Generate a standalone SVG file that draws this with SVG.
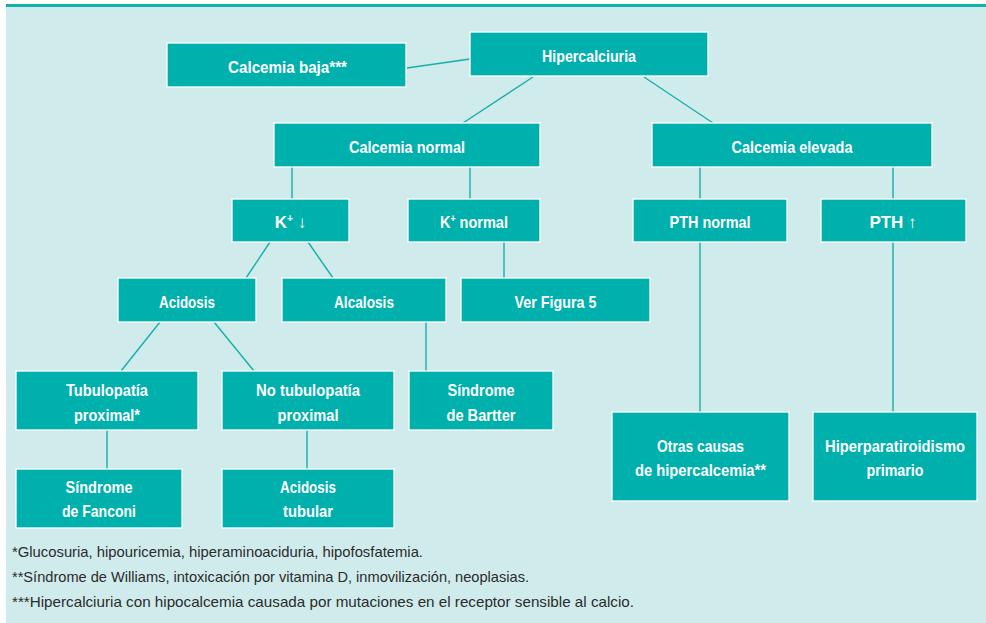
<svg xmlns="http://www.w3.org/2000/svg" width="986" height="623" viewBox="0 0 986 623">
  <style>
    .box { fill: #00b0ad; stroke: #ffffff; stroke-width: 1.3; }
    .lbl { font-family: "Liberation Sans", "Arial", sans-serif; font-weight: bold; font-size: 17px; fill: #ffffff; text-anchor: middle; }
    .sup { font-size: 10px; }
    .link { stroke: #17aeab; stroke-width: 1.4; fill: none; }
    .note { font-family: "Liberation Sans", "Arial", sans-serif; font-size: 14.5px; fill: #2b2b2b; }
  </style>

  <!-- frame -->
  <rect x="6" y="6" width="980" height="617" fill="#d0ebeb"/>
  <rect x="6" y="4" width="980" height="3" fill="#14b0aa"/>

  <!-- connectors -->
  <g id="connectors">
    <line class="link" x1="407" y1="68" x2="470" y2="59"/>
    <line class="link" x1="533" y1="77" x2="463" y2="123"/>
    <line class="link" x1="644" y1="77" x2="713" y2="123"/>
    <line class="link" x1="292" y1="167" x2="292" y2="199"/>
    <line class="link" x1="470" y1="167" x2="470" y2="199"/>
    <line class="link" x1="700" y1="167" x2="700" y2="199"/>
    <line class="link" x1="893" y1="167" x2="893" y2="199"/>
    <line class="link" x1="270" y1="242" x2="246" y2="278"/>
    <line class="link" x1="308" y1="242" x2="333" y2="278"/>
    <line class="link" x1="504" y1="242" x2="504" y2="278"/>
    <line class="link" x1="160" y1="322" x2="121" y2="371"/>
    <line class="link" x1="214" y1="322" x2="254" y2="371"/>
    <line class="link" x1="426" y1="322" x2="426" y2="371"/>
    <line class="link" x1="107" y1="430" x2="107" y2="469"/>
    <line class="link" x1="307" y1="430" x2="307" y2="469"/>
    <line class="link" x1="700" y1="242" x2="700" y2="412"/>
    <line class="link" x1="893" y1="242" x2="893" y2="412"/>
  </g>

  <!-- nodes -->
  <g id="calcemia-baja">
    <rect class="box" x="167" y="43" width="239" height="44"/>
    <text class="lbl" x="287.5" y="73" textLength="119" lengthAdjust="spacingAndGlyphs">Calcemia baja***</text>
  </g>
  <g id="hipercalciuria">
    <rect class="box" x="470" y="32" width="238" height="44"/>
    <text class="lbl" x="589" y="62" textLength="94" lengthAdjust="spacingAndGlyphs">Hipercalciuria</text>
  </g>
  <g id="calcemia-normal">
    <rect class="box" x="274" y="123" width="266" height="44"/>
    <text class="lbl" x="407" y="153" textLength="116" lengthAdjust="spacingAndGlyphs">Calcemia normal</text>
  </g>
  <g id="calcemia-elevada">
    <rect class="box" x="652" y="123" width="280" height="44"/>
    <text class="lbl" x="792" y="153" textLength="121" lengthAdjust="spacingAndGlyphs">Calcemia elevada</text>
  </g>
  <g id="k-bajo">
    <rect class="box" x="232" y="199" width="117" height="43"/>
    <text class="lbl" x="290.5" y="228">K<tspan class="sup" dy="-6">+</tspan><tspan dy="6"> ↓</tspan></text>
  </g>
  <g id="k-normal">
    <rect class="box" x="408" y="199" width="132" height="43"/>
    <text class="lbl" x="474" y="228" textLength="68" lengthAdjust="spacingAndGlyphs">K<tspan class="sup" dy="-6">+</tspan><tspan dy="6"> normal</tspan></text>
  </g>
  <g id="pth-normal">
    <rect class="box" x="633" y="199" width="154" height="43"/>
    <text class="lbl" x="710" y="228" textLength="81" lengthAdjust="spacingAndGlyphs">PTH normal</text>
  </g>
  <g id="pth-alta">
    <rect class="box" x="821" y="199" width="145" height="43"/>
    <text class="lbl" x="893" y="228">PTH ↑</text>
  </g>
  <g id="acidosis">
    <rect class="box" x="118" y="278" width="138" height="44"/>
    <text class="lbl" x="187" y="308" textLength="56" lengthAdjust="spacingAndGlyphs">Acidosis</text>
  </g>
  <g id="alcalosis">
    <rect class="box" x="282" y="278" width="164" height="44"/>
    <text class="lbl" x="364" y="308" textLength="60" lengthAdjust="spacingAndGlyphs">Alcalosis</text>
  </g>
  <g id="ver-figura-5">
    <rect class="box" x="461" y="278" width="189" height="44"/>
    <text class="lbl" x="555.5" y="308" textLength="82" lengthAdjust="spacingAndGlyphs">Ver Figura 5</text>
  </g>
  <g id="tubulopatia-proximal">
    <rect class="box" x="16" y="371" width="182" height="59"/>
    <text class="lbl" x="107" y="396" textLength="82" lengthAdjust="spacingAndGlyphs">Tubulopatía</text>
    <text class="lbl" x="107" y="421" textLength="66" lengthAdjust="spacingAndGlyphs">proximal*</text>
  </g>
  <g id="no-tubulopatia-proximal">
    <rect class="box" x="222" y="371" width="172" height="59"/>
    <text class="lbl" x="308" y="396" textLength="104" lengthAdjust="spacingAndGlyphs">No tubulopatía</text>
    <text class="lbl" x="308" y="421" textLength="61" lengthAdjust="spacingAndGlyphs">proximal</text>
  </g>
  <g id="sindrome-bartter">
    <rect class="box" x="409" y="371" width="144" height="59"/>
    <text class="lbl" x="481" y="396" textLength="67" lengthAdjust="spacingAndGlyphs">Síndrome</text>
    <text class="lbl" x="481" y="421" textLength="69" lengthAdjust="spacingAndGlyphs">de Bartter</text>
  </g>
  <g id="sindrome-fanconi">
    <rect class="box" x="16" y="469" width="166" height="59"/>
    <text class="lbl" x="99" y="493" textLength="67" lengthAdjust="spacingAndGlyphs">Síndrome</text>
    <text class="lbl" x="99" y="517" textLength="74" lengthAdjust="spacingAndGlyphs">de Fanconi</text>
  </g>
  <g id="acidosis-tubular">
    <rect class="box" x="222" y="469" width="172" height="59"/>
    <text class="lbl" x="308" y="493" textLength="56" lengthAdjust="spacingAndGlyphs">Acidosis</text>
    <text class="lbl" x="308" y="517" textLength="50" lengthAdjust="spacingAndGlyphs">tubular</text>
  </g>
  <g id="otras-causas">
    <rect class="box" x="612" y="412" width="177" height="89"/>
    <text class="lbl" x="700.5" y="452" textLength="87" lengthAdjust="spacingAndGlyphs">Otras causas</text>
    <text class="lbl" x="700.5" y="476" textLength="131" lengthAdjust="spacingAndGlyphs">de hipercalcemia**</text>
  </g>
  <g id="hiperparatiroidismo">
    <rect class="box" x="813" y="412" width="164" height="89"/>
    <text class="lbl" x="895" y="452" textLength="140" lengthAdjust="spacingAndGlyphs">Hiperparatiroidismo</text>
    <text class="lbl" x="895" y="476" textLength="57" lengthAdjust="spacingAndGlyphs">primario</text>
  </g>

  <!-- footnotes -->
  <g id="notas">
    <text class="note" x="12" y="557" textLength="411" lengthAdjust="spacingAndGlyphs">*Glucosuria, hipouricemia, hiperaminoaciduria, hipofosfatemia.</text>
    <text class="note" x="12" y="582" textLength="517" lengthAdjust="spacingAndGlyphs">**Síndrome de Williams, intoxicación por vitamina D, inmovilización, neoplasias.</text>
    <text class="note" x="12" y="607" textLength="622" lengthAdjust="spacingAndGlyphs">***Hipercalciuria con hipocalcemia causada por mutaciones en el receptor sensible al calcio.</text>
  </g>
</svg>
